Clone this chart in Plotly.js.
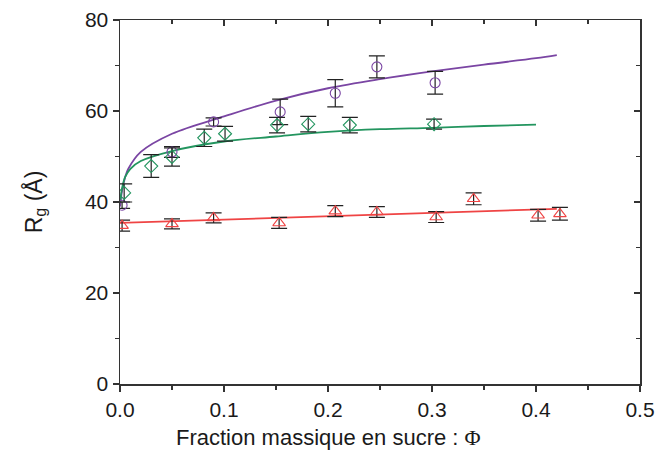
<!DOCTYPE html>
<html><head><meta charset="utf-8">
<script src="https://cdn.plot.ly/plotly-3.0.1.min.js"></script>
<style>html,body{margin:0;padding:0;background:#fff;}#chart{width:662px;height:454px;}</style>
</head><body><div id="chart"></div>
<script>
// Purple circles
const circPhi = [0.002, 0.05, 0.09, 0.154, 0.207, 0.247, 0.303];
const circR   = [39.3, 51.0, 57.6, 59.8, 63.9, 69.7, 66.2];
const circErr = [0.7, 1.2, 0.9, 2.8, 3.0, 2.4, 2.5];
// Green diamonds
const diaPhi = [0.004, 0.030, 0.050, 0.081, 0.101, 0.151, 0.181, 0.221, 0.302];
const diaR   = [42.0, 47.9, 49.9, 54.1, 55.0, 56.9, 57.1, 56.9, 57.1];
const diaErr = [2.0, 2.5, 2.0, 1.9, 1.6, 1.7, 1.7, 1.7, 1.1];
// Red triangles
const triPhi = [0.002, 0.050, 0.090, 0.153, 0.207, 0.247, 0.304, 0.340, 0.402, 0.423];
const triR   = [34.8, 35.2, 36.5, 35.4, 38.0, 37.8, 36.7, 40.7, 37.1, 37.4];
const triErr = [1.2, 1.1, 1.1, 1.2, 1.2, 1.2, 1.2, 1.3, 1.3, 1.4];
// Fit curves
const fitPurplePhi = [0, 0.002, 0.005, 0.008, 0.02, 0.05, 0.1, 0.15, 0.2, 0.25, 0.3, 0.35, 0.4, 0.42];
const fitPurpleR   = [39.0, 42.5, 45.5, 47.3, 51.0, 55.0, 58.8, 62.3, 65.0, 67.0, 68.7, 70.2, 71.6, 72.3];
const fitGreenPhi = [0, 0.002, 0.005, 0.01, 0.02, 0.05, 0.1, 0.15, 0.2, 0.25, 0.3, 0.35, 0.4];
const fitGreenR   = [40.0, 43.0, 45.5, 47.3, 49.0, 51.2, 53.3, 54.4, 55.4, 56.0, 56.3, 56.7, 57.0];
const fitRedPhi = [0, 0.42];
const fitRedR   = [35.4, 38.5];
// Axis ticks and titles
const xTicks = [0, 0.1, 0.2, 0.3, 0.4, 0.5];
const xTickText = ['0.0', '0.1', '0.2', '0.3', '0.4', '0.5'];
const yTicks = [0, 20, 40, 60, 80];
const xTitle = 'Fraction massique en sucre : <span style="font-family:Liberation Serif, Times New Roman, serif">Φ</span>';
const yTitle = 'R<sub>g</sub> (Å)';

const cPurple = '#7a45a3', cGreen = '#23955f', cRed = '#ef4444';
const eb = (arr) => ({type:'data', array:arr, visible:true, color:'#222', thickness:1.2, width:8});

const traces = [
  {x:fitPurplePhi, y:fitPurpleR, mode:'lines', line:{color:cPurple, width:1.8, shape:'spline'}, hoverinfo:'skip'},
  {x:fitGreenPhi, y:fitGreenR, mode:'lines', line:{color:cGreen, width:1.8, shape:'spline'}, hoverinfo:'skip'},
  {x:fitRedPhi, y:fitRedR, mode:'lines', line:{color:cRed, width:1.8}, hoverinfo:'skip'},
  {x:circPhi, y:circR, error_y:eb(circErr), mode:'markers', marker:{symbol:'circle-open', size:10, color:cPurple, line:{width:1.1}}},
  {x:diaPhi, y:diaR, error_y:eb(diaErr), mode:'markers', marker:{symbol:'diamond-open', size:10, color:cGreen, line:{width:1.1}}},
  {x:triPhi, y:triR, error_y:eb(triErr), mode:'markers', marker:{symbol:'triangle-up-open', size:11, color:cRed, line:{width:1.1}}},
  {x:[0.25], y:[40], xaxis:'x2', yaxis:'y2', mode:'markers', marker:{opacity:0}, hoverinfo:'skip'}
];

const font = {family:'Liberation Sans, Arial, sans-serif', size:21, color:'#1a1a1a'};
const axCommon = {showgrid:false, zeroline:false, showline:true, linecolor:'#333', linewidth:1.5, tickcolor:'#333', tickwidth:1.2};
const layout = {
  width:662, height:454, showlegend:false,
  margin:{l:120, r:22, t:20, b:70},
  paper_bgcolor:'#fff', plot_bgcolor:'#fff',
  font:font,
  xaxis:Object.assign({}, axCommon, {range:[0,0.5], tickvals:xTicks, ticktext:xTickText, ticks:'outside', ticklen:6,
    minor:{dtick:0.05, ticks:'outside', ticklen:4, tickcolor:'#333', tickwidth:1.2},
    tickfont:{size:21, color:'#1a1a1a'}}),
  yaxis:Object.assign({}, axCommon, {range:[0,80], tickvals:yTicks, ticks:'outside', ticklen:6,
    minor:{dtick:10, ticks:'outside', ticklen:4, tickcolor:'#333', tickwidth:1.2},
    tickfont:{size:21, color:'#1a1a1a'},
    title:{text:yTitle, font:{size:23, color:'#1a1a1a'}, standoff:36}}),
  xaxis2:Object.assign({}, axCommon, {range:[0,0.5], overlaying:'x', side:'top', anchor:'y2', tickvals:xTicks, ticks:'inside', ticklen:6,
    showticklabels:false, minor:{dtick:0.05, ticks:'inside', ticklen:4, tickcolor:'#333', tickwidth:1.2}}),
  yaxis2:Object.assign({}, axCommon, {range:[0,80], overlaying:'y', side:'right', anchor:'x2', tickvals:yTicks, ticks:'inside', ticklen:6,
    showticklabels:false, minor:{dtick:10, ticks:'inside', ticklen:4, tickcolor:'#333', tickwidth:1.2}}),
  annotations:[{text:xTitle, xref:'paper', yref:'paper', x:0.4, y:-0.146, xanchor:'center', yanchor:'middle',
    showarrow:false, font:{size:22, color:'#1a1a1a'}}]
};
Plotly.newPlot('chart', traces, layout, {staticPlot:true, displayModeBar:false});
</script>
</body></html>
